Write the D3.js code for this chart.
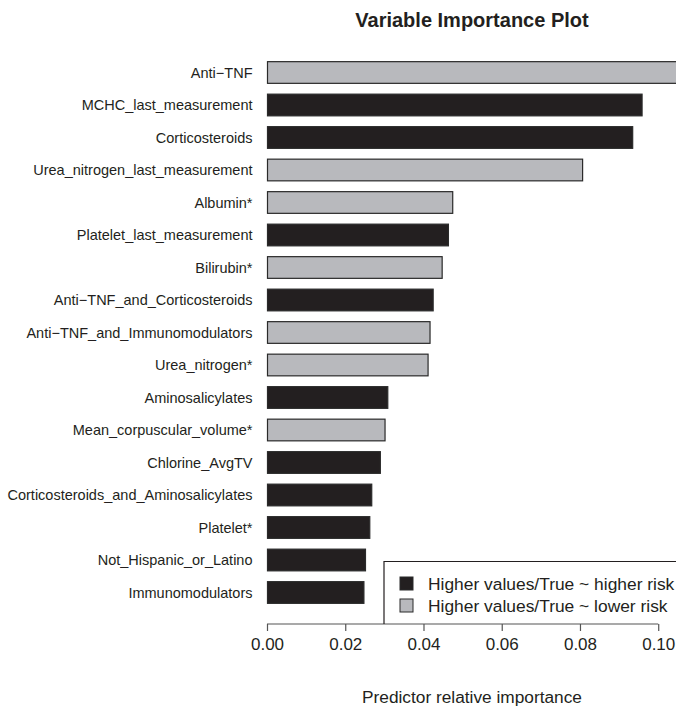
<!DOCTYPE html>
<html>
<head>
<meta charset="utf-8">
<script src="https://cdn.jsdelivr.net/npm/d3@7"></script>
<style>
  body { margin: 0; background: #fff; }
  text { font-family: "Liberation Sans", Arial, Helvetica, sans-serif; fill: #231f20; }
</style>
</head>
<body>
<div id="my_dataviz"></div>
<script>
// variables, top to bottom
const variables = [
  "Anti\u2212TNF", "MCHC_last_measurement", "Corticosteroids", "Urea_nitrogen_last_measurement",
  "Albumin*", "Platelet_last_measurement", "Bilirubin*", "Anti\u2212TNF_and_Corticosteroids",
  "Anti\u2212TNF_and_Immunomodulators", "Urea_nitrogen*", "Aminosalicylates", "Mean_corpuscular_volume*",
  "Chlorine_AvgTV", "Corticosteroids_and_Aminosalicylates", "Platelet*", "Not_Hispanic_or_Latino",
  "Immunomodulators"
];
const importance = [
  0.108, 0.0960, 0.0936, 0.0808,
  0.0476, 0.0465, 0.0449, 0.0426,
  0.0418, 0.0413, 0.0310, 0.0303,
  0.0291, 0.0269, 0.0264, 0.0253,
  0.0249
];
// "higher" = higher values/True ~ higher risk, "lower" = ~ lower risk
const direction = [
  "lower", "higher", "higher", "lower",
  "lower", "higher", "lower", "higher",
  "lower", "lower", "higher", "lower",
  "higher", "higher", "higher", "higher",
  "higher"
];
const tickValues = [0, 0.02, 0.04, 0.06, 0.08, 0.10];
const legendLabels = ["Higher values/True ~ higher risk", "Higher values/True ~ lower risk"];

const colors = { higher: "#231f20", lower: "#b8b9bd" };

const width = 676, height = 706;
const plot = { left: 267, right: 677, top: 56.25, bottom: 608.75 };

const svg = d3.select("#my_dataviz")
  .append("svg")
  .attr("width", width)
  .attr("height", height);

const x = d3.scaleLinear()
  .domain([0, 0.1048])
  .range([plot.left, plot.right]);

const y = d3.scaleBand()
  .domain(variables)
  .range([plot.top, plot.bottom])
  .paddingInner(0.333)
  .paddingOuter(0.1665);

svg.append("clipPath")
  .attr("id", "clip")
  .append("rect")
  .attr("x", plot.left - 1)
  .attr("y", 0)
  .attr("width", plot.right - plot.left + 1)
  .attr("height", height);

// title
svg.append("text")
  .attr("x", 472)
  .attr("y", 27)
  .attr("text-anchor", "middle")
  .style("font-weight", "bold")
  .style("font-size", "20px")
  .text("Variable Importance Plot");

// bars
const data = variables.map((v, i) => ({ name: v, value: importance[i], dir: direction[i] }));

svg.append("g")
  .attr("clip-path", "url(#clip)")
  .selectAll(".bar")
  .data(data)
  .enter()
  .append("rect")
  .attr("class", "bar")
  .attr("x", x(0) + 0.5)
  .attr("y", d => y(d.name))
  .attr("width", d => x(d.value) - x(0) - 1)
  .attr("height", y.bandwidth())
  .attr("fill", d => colors[d.dir])
  .attr("stroke", "#2a2a2a")
  .attr("stroke-width", 1.2);

// variable names
svg.append("g")
  .selectAll(".name")
  .data(data)
  .enter()
  .append("text")
  .attr("class", "name")
  .attr("x", 252.5)
  .attr("y", d => y(d.name) + y.bandwidth() / 2)
  .attr("dy", "0.35em")
  .attr("text-anchor", "end")
  .style("font-size", "14.5px")
  .text(d => d.name);

// x axis
const axisY = 624;
const xAxis = svg.append("g")
  .attr("transform", `translate(0,${axisY})`)
  .call(d3.axisBottom(x)
    .tickValues(tickValues)
    .tickFormat(d3.format(".2f"))
    .tickSize(7)
    .tickPadding(7));
xAxis.select(".domain").remove();
xAxis.selectAll(".tick line").attr("stroke", "#555").attr("stroke-width", 1.2);
xAxis.selectAll(".tick text")
  .style("font-size", "17px")
  .style("font-family", '"Liberation Sans", Arial, sans-serif')
  .attr("fill", "#231f20");
xAxis.append("line")
  .attr("x1", x(tickValues[0]))
  .attr("x2", x(tickValues[tickValues.length - 1]))
  .attr("stroke", "#555")
  .attr("stroke-width", 1.2);

svg.append("text")
  .attr("x", 472)
  .attr("y", 703)
  .attr("text-anchor", "middle")
  .style("font-size", "17.3px")
  .text("Predictor relative importance");

// legend
const legend = svg.append("g");
legend.append("path")
  .attr("d", `M384,${axisY}V561.5H${plot.right}`)
  .attr("fill", "none")
  .attr("stroke", "#231f20")
  .attr("stroke-width", 1.2);

const legendRows = legend.selectAll(".legend-row")
  .data(legendLabels)
  .enter()
  .append("g")
  .attr("class", "legend-row")
  .attr("transform", (d, i) => `translate(0,${583.5 + i * 22})`);

legendRows.append("rect")
  .attr("x", 400)
  .attr("y", -6.5)
  .attr("width", 13)
  .attr("height", 13)
  .attr("fill", (d, i) => i === 0 ? colors.higher : colors.lower)
  .attr("stroke", "#2a2a2a")
  .attr("stroke-width", 1);

legendRows.append("text")
  .attr("x", 428)
  .attr("y", 0)
  .attr("dy", "0.35em")
  .style("font-size", "17.4px")
  .text(d => d);
</script>
</body>
</html>
